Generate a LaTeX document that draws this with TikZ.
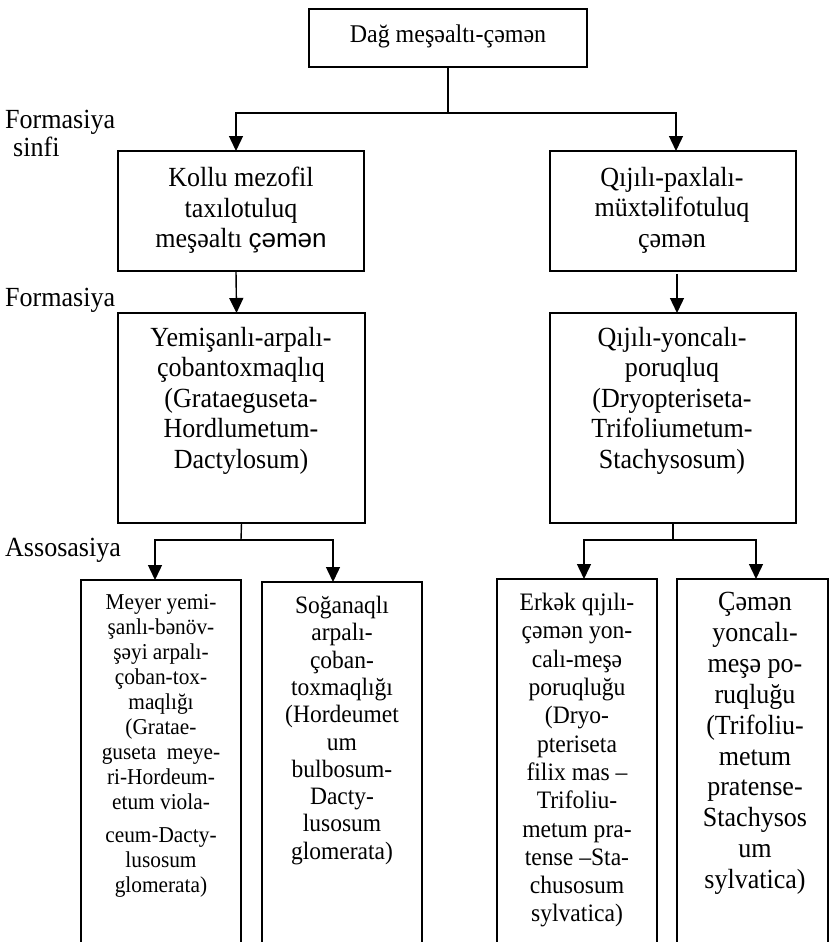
\documentclass[tikz,border=0pt]{standalone}
\usepackage{fontspec}
\setmainfont[FakeStretch=0.94]{Liberation Serif}
\newfontfamily\arialfont{Liberation Sans}
\usetikzlibrary{arrows.meta}

\begin{document}
\begin{tikzpicture}[x=1pt,y=-1pt,
  box/.style={draw, line width=2.4pt, inner sep=0pt, outer sep=0pt, anchor=north west},
  conn/.style={line width=1.4pt},
  arr/.style={conn, -{Triangle[length=15pt,width=14pt]}},
  txt/.style={inner sep=0pt, align=center, anchor=north},
  lbl/.style={inner sep=0pt, align=left, anchor=north west, font=\fontsize{27.7}{28}\selectfont},
]
\useasboundingbox (0,0) rectangle (831,942);
\clip (0,0) rectangle (831,942);

% boxes
\node[box, minimum width=278pt, minimum height=58pt] (top) at (309,9) {};
\node[box, minimum width=246pt, minimum height=120pt] (L1) at (118,151) {};
\node[box, minimum width=246pt, minimum height=120pt] (R1) at (550,151) {};
\node[box, minimum width=247pt, minimum height=210pt] (L2) at (118,313) {};
\node[box, minimum width=246pt, minimum height=210pt] (R2) at (550,313) {};
\node[box, minimum width=160pt, minimum height=400pt] (B1) at (81,580) {};
\node[box, minimum width=160pt, minimum height=400pt] (B2) at (262,582) {};
\node[box, minimum width=160pt, minimum height=400pt] (B3) at (497,579) {};
\node[box, minimum width=151pt, minimum height=400pt] (B4) at (677,579) {};

% box texts
\node[inner sep=0pt, font=\fontsize{25.5}{28}\selectfont] (ttop) at (448,36) {Dağ meşəaltı-çəmən};
\node[txt, font=\fontsize{27.7}{30.5}\selectfont] (tL1) at (241,167)
  {Kollu mezofil\\ taxılotuluq\\ meşəaltı {\arialfont\fontsize{26}{30}\selectfont çəmən}};
\node[txt, font=\fontsize{27.7}{30.5}\selectfont] (tR1) at (672,167)
  {Qıjılı-paxlalı-\\ müxtəlifotuluq\\ çəmən};
\node[txt, font=\fontsize{27.7}{30.5}\selectfont] (tL2) at (241,327)
  {Yemişanlı-arpalı-\\ çobantoxmaqlıq\\ (Grataeguseta-\\ Hordlumetum-\\ Dactylosum)};
\node[txt, font=\fontsize{27.7}{30.5}\selectfont] (tR2) at (672,327)
  {Qıjılı-yoncalı-\\ poruqluq\\ (Dryopteriseta-\\ Trifoliumetum-\\ Stachysosum)};
\node[txt, font=\fontsize{22.7}{25}\selectfont] (tB1) at (161,594)
  {Meyer yemi-\\ şanlı-bənöv-\\ şəyi arpalı-\\ çoban-tox-\\ maqlığı\\ (Gratae-\\ guseta\ \ meye-\\ ri-Hordeum-\\ etum viola-\\[8pt] ceum{\arialfont\fontsize{21}{25}\selectfont -}Dacty-\\ lusosum\\ glomerata)};
\node[txt, font=\fontsize{25}{27.3}\selectfont] (tB2) at (342,596)
  {Soğanaqlı\\ arpalı-\\ çoban-\\ toxmaqlığı\\ (Hordeumet\\ um\\ bulbosum-\\ Dacty-\\ lusosum\\ glomerata)};
\node[txt, font=\fontsize{25.1}{28.3}\selectfont] (tB3) at (577,593)
  {Erkək qıjılı-\\ çəmən yon-\\ calı-meşə\\ poruqluğu\\ (Dryo-\\ pteriseta\\ filix mas –\\ Trifoliu-\\ metum pra-\\ tense –Sta-\\ chusosum\\ sylvatica)};
\node[txt, font=\fontsize{27.7}{30.9}\selectfont] (tB4) at (755,592)
  {Çəmən\\ yoncalı-\\ meşə po-\\ ruqluğu\\ (Trifoliu-\\ metum\\ pratense-\\ Stachysos\\ um\\ sylvatica)};

% level labels
\node[lbl] (lab1) at (5,110) {Formasiya\\\hspace*{8pt}sinfi};
\node[lbl] (lab2) at (5,288) {Formasiya};
\node[lbl] (lab3) at (5,538) {Assosasiya};

% connectors
\coordinate (j1) at (448,113);
\draw[conn] (top.south) -- (j1);
\draw[arr] (j1) -| ([xshift=-5pt]L1.north);
\draw[arr] (j1) -| ([xshift=3pt]R1.north);
\draw[arr] ([xshift=-5pt]L1.south) -- ([xshift=-5pt]L2.north);
\draw[arr] ([xshift=4pt,yshift=-3pt]R1.south) -- ([xshift=4pt]R2.north);

\coordinate (j2) at (241,540);
\draw[conn] (L2.south) -- (j2);
\draw[arr] (j2) -| ([xshift=-6pt]B1.north);
\draw[arr] (j2) -| ([xshift=-9pt]B2.north);

\coordinate (j3) at (673,540);
\draw[conn] (R2.south) -- (j3);
\draw[arr] (j3) -| ([xshift=7pt]B3.north);
\draw[arr] (j3) -| ([xshift=3.5pt]B4.north);
\end{tikzpicture}
\end{document}
